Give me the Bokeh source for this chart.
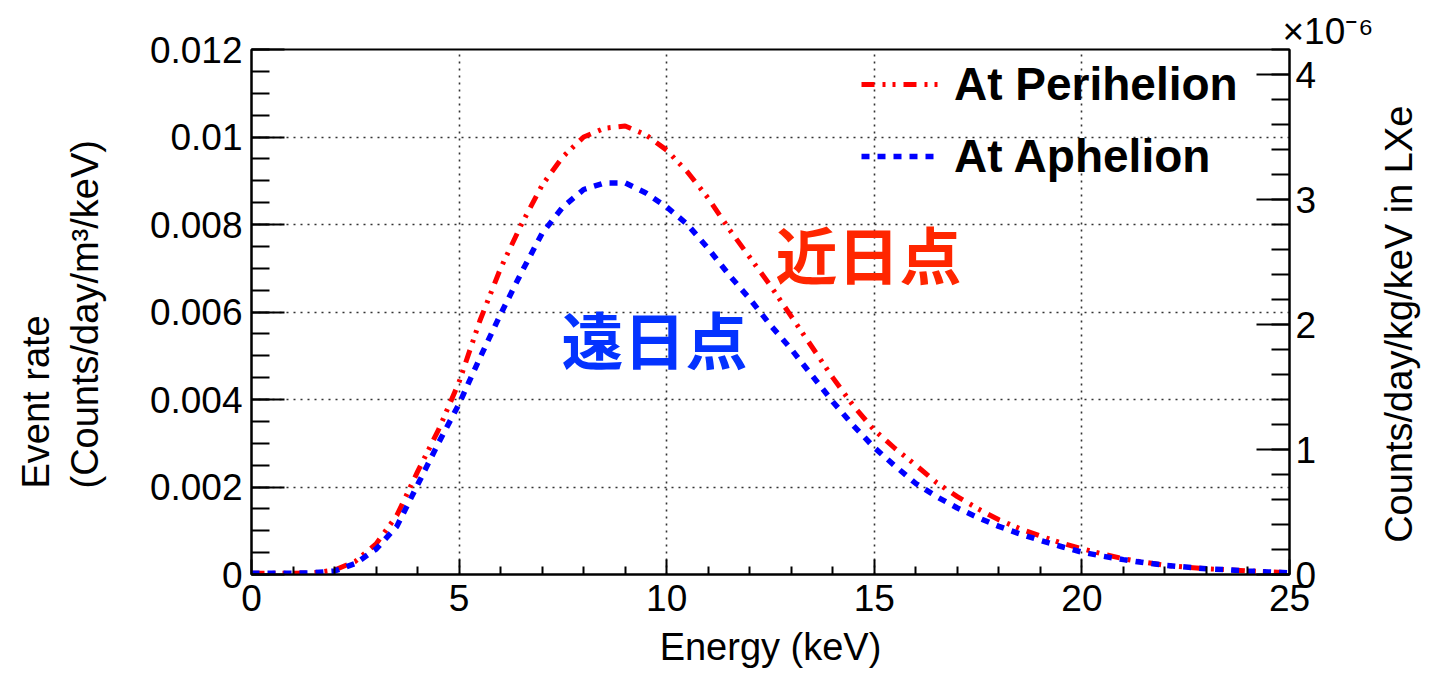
import math
from bokeh.plotting import figure
from bokeh.models import Range1d, LinearAxis, FixedTicker, Legend, LegendItem, Label, Title
from bokeh.embed import file_html
from bokeh.resources import INLINE

# ---------------- data ----------------
energy_kev = [0.0, 0.5, 1.0, 1.5, 2.0, 2.5, 3.0, 3.5, 4.0, 4.5,
              5.0, 5.5, 6.0, 6.5, 7.0, 7.5, 8.0, 8.5, 9.0, 9.5,
              10.0, 10.5, 11.0, 11.5, 12.0, 12.5, 13.0, 13.5, 14.0, 14.5,
              15.0, 15.5, 16.0, 16.5, 17.0, 17.5, 18.0, 18.5, 19.0, 19.5,
              20.0, 20.5, 21.0, 21.5, 22.0, 22.5, 23.0, 23.5, 24.0, 24.5, 25.0]

rate_perihelion = [0.00003, 0.00003, 0.00003, 0.00004, 0.00010, 0.00030, 0.00070, 0.00135, 0.00235, 0.00330,
                   0.00440, 0.00580, 0.00700, 0.00800, 0.00890, 0.00955, 0.01000, 0.01020, 0.01025, 0.01005,
                   0.00970, 0.00920, 0.00860, 0.00790, 0.00725, 0.00660, 0.00590, 0.00520, 0.00450, 0.00385,
                   0.00330, 0.00288, 0.00250, 0.00210, 0.00178, 0.00150, 0.00125, 0.00105, 0.00088, 0.00072,
                   0.00059, 0.00047, 0.00036, 0.00028, 0.00021, 0.00017, 0.00013, 0.00011, 0.00008, 0.00006, 0.00004]

rate_aphelion = [0.00003, 0.00003, 0.00003, 0.00004, 0.00008, 0.00025, 0.00058, 0.00110, 0.00205, 0.00300,
                 0.00390, 0.00495, 0.00595, 0.00690, 0.00780, 0.00840, 0.00880, 0.00895, 0.00895, 0.00872,
                 0.00840, 0.00800, 0.00745, 0.00685, 0.00630, 0.00570, 0.00515, 0.00455, 0.00395, 0.00340,
                 0.00290, 0.00248, 0.00208, 0.00178, 0.00152, 0.00130, 0.00110, 0.00093, 0.00078, 0.00064,
                 0.00051, 0.00042, 0.00034, 0.00027, 0.00021, 0.00017, 0.00013, 0.00011, 0.00008, 0.00006, 0.00004]

series_labels = ["At Perihelion", "At Aphelion"]
annotation_texts = ["近日点", "遠日点"]

x_ticks = [0, 5, 10, 15, 20, 25]
left_ticks = [0, 0.002, 0.004, 0.006, 0.008, 0.010, 0.012]
left_tick_labels = ["0", "0.002", "0.004", "0.006", "0.008", "0.01", "0.012"]
right_ticks = [0, 1, 2, 3, 4]
right_tick_labels = ["0", "1", "2", "3", "4"]

x_title = "Energy (keV)"
left_title_lines = ["Event rate", "(Counts/day/m³/keV)"]
right_title = "Counts/day/kg/keV in LXe"
right_multiplier = "×10⁻⁶"

# ---------------- figure ----------------
FONT = "Liberation Sans"

p = figure(width=1449, height=675, x_range=Range1d(0, 25), y_range=Range1d(0, 0.012),
           output_backend="svg", toolbar_location=None,
           min_border_left=251, min_border_right=160, min_border_top=49, min_border_bottom=101)
p.background_fill_color = "white"
p.border_fill_color = "white"
p.outline_line_color = "black"
p.outline_line_width = 2
p.extra_y_ranges = {"lxe": Range1d(0, 4.2)}

x_minor = [float(i) for i in range(26) if i % 5 != 0]
left_minor = [k * 0.0005 for k in range(25)]
right_minor = [k * 0.2 for k in range(22)]

xa = p.xaxis[0]
xa.ticker = FixedTicker(ticks=x_ticks, minor_ticks=x_minor)
ya = p.yaxis[0]
ya.ticker = FixedTicker(ticks=left_ticks, minor_ticks=left_minor)
ya.major_label_overrides = dict(zip(left_ticks, left_tick_labels))

ra = LinearAxis(y_range_name="lxe", ticker=FixedTicker(ticks=right_ticks, minor_ticks=right_minor))
ra.major_label_overrides = dict(zip(right_ticks, right_tick_labels))
p.add_layout(ra, "right")

for ax in (xa, ya, ra):
    ax.axis_line_color = "black"
    ax.axis_line_width = 2
    ax.major_tick_line_color = "black"
    ax.minor_tick_line_color = "black"
    ax.major_tick_line_width = 2
    ax.minor_tick_line_width = 2
    ax.major_tick_out = 0
    ax.minor_tick_out = 0
    ax.major_label_text_font = FONT
    ax.major_label_text_font_size = "37px"
    ax.major_label_text_color = "black"

xa.major_tick_in = 15
xa.minor_tick_in = 8
xa.major_label_standoff = 10
ya.major_tick_in = 33
ya.minor_tick_in = 18
ya.major_label_standoff = 9
ra.major_tick_in = 33
ra.minor_tick_in = 18
ra.major_label_standoff = 6

xa.axis_label = x_title
xa.axis_label_text_font = FONT
xa.axis_label_text_font_size = "38px"
xa.axis_label_text_font_style = "normal"
xa.axis_label_text_color = "black"
xa.axis_label_standoff = 12

# left axis: empty spacer label so that the two-line title sits further out
ya.axis_label = " "
ya.axis_label_text_font_size = "2px"
ya.axis_label_standoff = 35

ra.axis_label = "\u00a0\u00a0\u00a0" + right_title
ra.axis_label_text_font = FONT
ra.axis_label_text_font_size = "38px"
ra.axis_label_text_font_style = "normal"
ra.axis_label_text_color = "black"
ra.axis_label_standoff = 80
ra.axis_label_orientation = math.pi / 2
if "axis_label_align" in ra.properties():
    ra.axis_label_align = "start"

# left axis title: two lines, both starting at the same height
p.add_layout(Title(text="\n".join(left_title_lines), align="left", offset=86, standoff=0,
                   text_font=FONT, text_font_size="38px", text_font_style="normal",
                   text_color="black", text_line_height=1.19), "left")

# multiplier of the right axis
p.add_layout(Title(text=right_multiplier, align="right", offset=-84, standoff=-5,
                   text_font=FONT, text_font_size="37px", text_font_style="normal",
                   text_color="black"), "above")

# grid
p.xgrid[0].ticker = FixedTicker(ticks=x_ticks)
p.ygrid[0].ticker = FixedTicker(ticks=left_ticks)
for g in (p.xgrid[0], p.ygrid[0]):
    g.grid_line_color = "#333333"
    g.grid_line_width = 1.6
    g.grid_line_dash = "2 5"

# curves
r_peri = p.line(energy_kev, rate_perihelion, line_color="#ff0000", line_width=5,
                line_dash="13 8 3 7 3 8")
r_aph = p.line(energy_kev, rate_aphelion, line_color="#0000ff", line_width=5.5,
               line_dash="8 8")

legend = Legend(items=[LegendItem(label=series_labels[0], renderers=[r_peri]),
                       LegendItem(label=series_labels[1], renderers=[r_aph])],
                location=(610, 388), orientation="vertical",
                padding=0, margin=0, spacing=12,
                glyph_width=78, glyph_height=60, label_height=60, label_standoff=15,
                label_text_font=FONT, label_text_font_size="46px", label_text_font_style="bold",
                label_text_color="black",
                background_fill_alpha=0, border_line_alpha=0)
p.add_layout(legend, "center")

# Japanese annotations
p.add_layout(Label(x=617, y=322, x_units="screen", y_units="screen", text=annotation_texts[0],
                   text_align="center", text_baseline="middle",
                   text_font="Noto Sans CJK JP", text_font_style="bold",
                   text_font_size="62px", text_color="#ff2600"))
p.add_layout(Label(x=403, y=237, x_units="screen", y_units="screen", text=annotation_texts[1],
                   text_align="center", text_baseline="middle",
                   text_font="Noto Sans CJK JP", text_font_style="bold",
                   text_font_size="62px", text_color="#0433ff"))

open("out.html", "w").write(file_html(p, INLINE))
